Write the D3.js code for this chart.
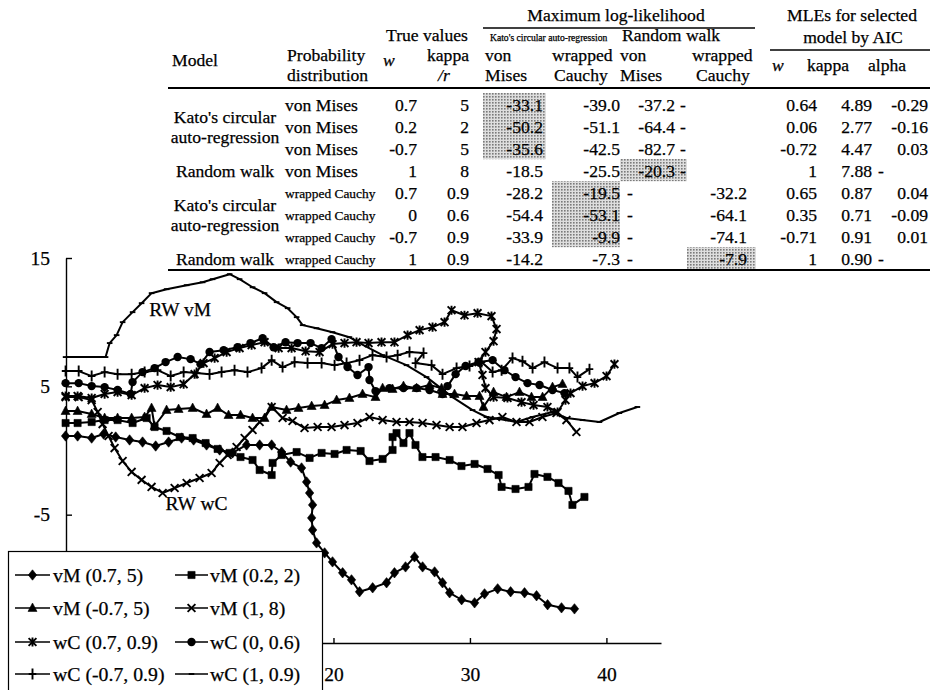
<!DOCTYPE html>
<html>
<head>
<meta charset="utf-8">
<script src="https://cdn.jsdelivr.net/npm/d3@7"></script>
<style>
  body { margin: 0; background: #fff; }
  svg { display: block; font-family: "Liberation Serif", "Times New Roman", serif; }
</style>
</head>
<body>
<div id="figure"></div>
<script>
// ---------- table values ----------
const modelNames = [["Kato's circular", "auto-regression"], ["Random walk"], ["Kato's circular", "auto-regression"], ["Random walk"]];
const modelRows = [[0, 2], [3, 3], [4, 6], [7, 7]];
const distributions = ["von Mises", "von Mises", "von Mises", "von Mises",
  "wrapped Cauchy", "wrapped Cauchy", "wrapped Cauchy", "wrapped Cauchy"];
const trueW = ["0.7", "0.2", "-0.7", "1", "0.7", "0", "-0.7", "1"];
const trueKappa = ["5", "2", "5", "8", "0.9", "0.6", "0.9", "0.9"];
const llKatoVM = ["-33.1", "-50.2", "-35.6", "-18.5", "-28.2", "-54.4", "-33.9", "-14.2"];
const llKatoWC = ["-39.0", "-51.1", "-42.5", "-25.5", "-19.5", "-53.1", "-9.9", "-7.3"];
const llRwVM = ["-37.2", "-64.4", "-82.7", "-20.3", null, null, null, null];
const llRwWC = [null, null, null, null, "-32.2", "-64.1", "-74.1", "-7.9"];
const mleW = ["0.64", "0.06", "-0.72", "1", "0.65", "0.35", "-0.71", "1"];
const mleKappa = ["4.89", "2.77", "4.47", "7.88", "0.87", "0.71", "0.91", "0.90"];
const mleAlpha = ["-0.29", "-0.16", "0.03", null, "0.04", "-0.09", "0.01", null];
const selectedModel = [0, 0, 0, 2, 1, 1, 1, 3]; // log-likelihood column chosen by AIC

// ---------- chart values (trajectory x, y) ----------
const seriesNames = ["vM (0.7, 5)", "vM (0.2, 2)", "vM (-0.7, 5)", "vM (1, 8)",
  "wC (0.7, 0.9)", "wC (0, 0.6)", "wC (-0.7, 0.9)", "wC (1, 0.9)"];
const markerTypes = ["diamond", "square", "triangle", "times", "asterisk", "circle", "plus", "dash"];

const pathVM07 = [[0.37,1.13],[1.25,1.13],[2.28,0.97],[3.16,1.28],[4.04,1.05],[5.06,0.82],[6.01,0.66],[6.97,0.35],
  [7.92,0.66],[8.87,0.97],[9.75,0.82],[10.7,0.43],[11.66,0.04],[12.6,-0.19],[13.63,0.43],[14.59,0.43],[15.47,0.43],
  [16.2,-0.12],[16.86,-0.9],[17.66,-1.36],[18.03,-2.45],[18.25,-3.31],[18.47,-4.24],[18.4,-5.25],[18.47,-6.19],
  [18.76,-7.2],[19.35,-7.98],[19.93,-8.68],[20.67,-9.53],[21.32,-10.08],[21.91,-11.01],[22.87,-10.7],[23.89,-10.31],
  [24.47,-9.53],[25.28,-9.07],[25.94,-8.29],[26.53,-9.07],[27.41,-9.46],[27.99,-10.31],[28.51,-11.09],[29.39,-11.63],
  [30.34,-11.87],[31.07,-11.17],[32.03,-10.78],[32.98,-11.01],[34.0,-11.09],[34.88,-11.32],[35.69,-12.02],
  [36.71,-12.26],[37.66,-12.34]];
const pathVM02 = [[0.37,2.14],[1.25,2.14],[2.28,2.22],[3.23,2.37],[4.18,2.37],[5.28,2.14],[6.31,2.53],[6.89,1.83],
  [7.77,1.52],[8.73,1.05],[9.68,0.97],[10.63,0.58],[11.51,0.12],[12.39,-0.19],[13.19,-0.51],[14.07,-0.74],
  [14.59,-1.52],[15.47,-1.91],[15.54,-0.97],[16.2,-0.35],[17.3,-0.12],[18.25,-0.58],[19.13,-0.19],[20.08,-0.27],
  [20.96,0.04],[21.99,-0.04],[22.64,-0.82],[23.6,-0.66],[24.33,0.04],[24.33,1.05],[24.62,1.36],[25.13,0.58],
  [25.57,1.36],[26.01,0.43],[26.52,-0.51],[27.48,-0.51],[28.51,-0.74],[29.38,-1.21],[30.34,-1.05],[31.29,-1.44],
  [32.1,-1.91],[32.32,-2.84],[33.34,-3.0],[34.29,-2.84],[34.73,-1.83],[35.68,-2.06],[36.49,-2.53],[37.22,-3.15],
  [37.51,-4.24],[38.39,-3.62]];
const pathVMm07 = [[0.37,3.07],[1.25,3.07],[2.28,2.84],[3.23,2.53],[4.18,2.53],[5.21,2.53],[6.16,2.61],[6.67,3.31],
  [6.89,1.91],[7.77,3.15],[8.65,3.23],[9.68,3.31],[10.7,2.84],[11.51,3.31],[12.31,2.76],[13.19,2.76],[14.07,2.53],
  [14.95,2.53],[15.47,3.39],[16.56,3.15],[17.44,3.31],[18.4,3.46],[19.35,3.54],[20.23,3.93],[21.17,4.09],[22.13,4.4],
  [23.08,4.16],[23.6,4.86],[24.33,4.79],[25.13,5.02],[26.09,4.86],[27.04,5.1],[27.92,4.86],[27.99,4.4],[28.87,4.4],
  [29.75,4.24],[30.7,4.24],[30.99,3.39],[31.73,4.55],[32.68,4.16],[33.63,4.55],[34.51,4.16],[35.32,4.16],
  [36.05,4.94],[36.78,5.18]];
const pathVM1 = [[0.37,4.16],[1.33,4.16],[2.28,3.93],[2.72,3.0],[3.08,2.06],[3.52,1.13],[3.96,0.19],[4.55,-0.82],
  [5.21,-1.67],[5.94,-2.29],[6.67,-2.84],[7.48,-3.31],[8.36,-2.92],[9.24,-2.53],[10.19,-2.14],[11.07,-1.75],
  [11.66,-0.97],[12.24,-0.35],[12.9,0.27],[13.49,0.97],[14.07,1.6],[14.59,2.22],[15.47,3.39],[16.27,2.53],[17.0,2.3],
  [17.88,1.75],[18.84,1.83],[19.86,1.83],[20.81,1.98],[21.76,2.14],[22.64,2.61],[23.6,2.37],[24.62,2.22],[25.57,2.22],
  [26.53,2.14],[27.55,1.98],[28.51,1.83],[29.45,1.83],[30.48,2.14],[31.43,2.37],[32.38,2.61],[33.41,2.22],
  [34.36,2.22],[35.31,2.61],[36.34,2.92],[37.07,2.37],[37.8,1.44]];
const pathWC07 = [[0.37,4.24],[1.25,4.24],[2.28,4.09],[3.23,4.4],[4.18,4.55],[5.21,4.32],[6.16,4.86],[7.11,5.1],
  [8.07,4.94],[9.02,5.17],[9.82,5.95],[10.48,6.81],[11.29,7.2],[12.17,7.67],[13.12,7.98],[14.0,8.21],[14.95,8.44],
  [15.98,7.98],[16.93,7.98],[17.96,7.74],[18.98,7.67],[19.93,8.29],[20.81,8.37],[21.69,8.44],[22.57,8.37],
  [23.52,8.44],[24.47,8.44],[25.43,8.99],[26.31,9.38],[27.26,9.61],[28.14,10.0],[28.65,10.93],[29.6,10.54],
  [30.56,10.7],[31.58,10.47],[31.95,9.46],[31.73,8.52],[31.14,7.67],[30.63,6.89],[30.92,5.88],[31.14,4.86],
  [31.73,4.16],[32.75,4.09],[33.78,3.77],[34.66,3.54],[35.68,3.39],[36.42,3.0],[37.0,3.93],[37.37,4.47],
  [38.25,5.02],[39.13,5.25],[40.01,5.8],[40.59,6.73]];
const pathWC0 = [[0.37,5.25],[1.33,5.25],[2.28,5.02],[3.23,4.94],[4.18,4.71],[5.14,4.4],[5.28,5.33],[6.01,6.11],
  [6.89,6.42],[7.7,6.89],[8.58,7.28],[9.53,7.12],[10.26,6.73],[10.92,7.67],[11.95,7.82],[12.97,8.05],[13.92,8.37],
  [14.81,8.75],[15.61,8.05],[16.49,8.44],[17.37,8.37],[18.32,8.37],[19.13,7.98],[19.86,8.68],[20.37,7.28],
  [21.03,6.5],[21.76,5.88],[22.57,6.5],[22.64,5.49],[23.08,4.63],[24.1,4.86],[25.13,4.86],[26.09,4.86],[27.04,4.71],
  [27.99,4.4],[28.36,5.02],[28.95,5.95],[29.68,6.58],[30.63,6.89],[31.66,7.04],[32.53,6.26],[33.34,5.72],
  [34.22,5.25],[35.1,5.1],[36.05,4.71],[36.93,4.47]];
const pathWCm07 = [[0.37,6.19],[1.33,6.19],[2.28,5.8],[3.23,6.11],[4.18,5.95],[5.21,5.95],[6.16,6.11],[7.11,6.26],
  [8.07,5.8],[9.02,6.11],[9.97,6.03],[10.92,5.95],[11.8,6.11],[12.75,6.26],[13.7,6.11],[14.73,6.42],[15.47,7.04],
  [16.27,6.5],[17.15,6.89],[18.1,6.81],[19.13,6.81],[20.08,6.65],[20.96,6.81],[21.91,7.04],[22.86,7.43],
  [23.89,7.28],[24.7,7.43],[25.57,7.67],[26.6,7.59],[26.01,6.81],[27.19,6.65],[27.99,5.95],[29.02,6.42],
  [29.97,6.58],[30.85,6.89],[31.66,6.11],[32.32,6.26],[33.12,7.2],[33.85,6.96],[34.59,6.42],[35.46,6.89],
  [36.42,6.42],[37.29,6.42],[37.88,5.72],[38.76,6.34]];
const pathWC1 = [[0.37,7.28],[1.33,7.28],[2.35,7.28],[3.3,7.28],[3.6,8.37],[4.11,8.99],[4.55,10.0],[5.28,10.78],
  [5.94,11.48],[6.67,12.26],[7.77,12.57],[9.24,12.88],[10.41,13.11],[11.14,13.35],[12.39,13.74],[13.12,13.35],
  [14.07,12.72],[14.95,12.26],[15.83,11.56],[16.64,11.09],[17.3,10.39],[17.74,9.77],[18.76,9.53],[19.93,9.22],
  [21.17,8.83],[21.91,8.37],[23.6,7.43],[25.35,6.65],[26.82,5.72],[27.77,4.94],[28.72,4.16],[30.19,3.15],
  [31.21,2.61],[32.17,2.45],[33.41,2.22],[34.58,2.61],[36.05,3.0],[37.07,2.53],[38.25,2.37],[39.49,2.22],
  [40.95,2.92],[42.27,3.39]];
const seriesPaths = [pathVM07, pathVM02, pathVMm07, pathVM1, pathWC07, pathWC0, pathWCm07, pathWC1];

const yTicks = [15, 5, -5, -15];
const xTicks = [10, 20, 30, 40];
const annotations = [["RW vM", 6.5, 10.5], ["RW wC", 7.7, -4.63]];

// ---------- containers ----------
const width = 930, height = 690;
const ink = "#000";
const svg = d3.select("#figure").append("svg")
  .attr("width", width).attr("height", height)
  .attr("viewBox", `0 0 ${width} ${height}`);

const defs = svg.append("defs");
const pat = defs.append("pattern").attr("id", "dots")
  .attr("width", 3).attr("height", 3).attr("patternUnits", "userSpaceOnUse");
pat.append("rect").attr("width", 3).attr("height", 3).attr("fill", "#dedede");
pat.append("rect").attr("width", 1.6).attr("height", 1.6).attr("fill", "#7a7a7a");

// ---------- table ----------
const table = svg.append("g");
const rowBase = [111, 133, 155, 177, 199, 221, 243, 265];
const colRight = {w: 417, kappa: 469, kv: 543, kw: 620, rv: 675, rw: 747, mw: 817, mk: 872, ma: 928};
const dashLeft = {rv: 627, rw: 680, ma: 878};
const shadeX = [[483, 546], [552, 620], [620, 687], [687, 756]];

const txt = (s, x, y, opts = {}) => table.append("text")
  .text(s).attr("x", x).attr("y", y)
  .attr("text-anchor", opts.anchor || "start")
  .attr("font-size", opts.size || 17.6)
  .attr("font-style", opts.italic ? "italic" : null)
  .attr("fill", ink).attr("stroke", ink).attr("stroke-width", 0.25);

// shading of selected models
selectedModel.forEach((c, i) => {
  table.append("rect")
    .attr("x", shadeX[c][0]).attr("width", shadeX[c][1] - shadeX[c][0])
    .attr("y", rowBase[i] - 18).attr("height", 22.2)
    .attr("fill", "url(#dots)");
});

// header rules
const rule = (x1, x2, yy, w) => table.append("line")
  .attr("x1", x1).attr("x2", x2).attr("y1", yy).attr("y2", yy)
  .attr("stroke", ink).attr("stroke-width", w);
rule(483, 755, 28, 1.5);
rule(770, 930, 50, 1.5);
rule(168, 930, 88, 2.2);
rule(168, 930, 270, 2.2);

// header text
txt("Maximum log-likelihood", 616, 21, {anchor: "middle"});
txt("MLEs for selected", 852, 21, {anchor: "middle"});
txt("model by AIC", 853, 43, {anchor: "middle"});
txt("True values", 427, 41, {anchor: "middle"});
txt("Kato's circular auto-regression", 490, 41, {size: 9.6});
txt("Random walk", 671, 41, {anchor: "middle"});
txt("Model", 172, 66);
txt("Probability", 287, 61);
txt("distribution", 287, 81);
txt("w", 383, 66, {italic: true});
txt("kappa", 469, 61, {anchor: "end"});
txt("/r", 438, 81, {italic: true});
txt("von", 485, 61); txt("Mises", 485, 81);
txt("wrapped", 552, 61); txt("Cauchy", 554, 81);
txt("von", 620, 61); txt("Mises", 620, 81);
txt("wrapped", 692, 61); txt("Cauchy", 696, 81);
txt("w", 772, 71, {italic: true});
txt("kappa", 807, 71);
txt("alpha", 868, 71);

// model names
modelNames.forEach((lines, g) => {
  const mid = rowBase[Math.round((modelRows[g][0] + modelRows[g][1]) / 2)];
  if (lines.length === 1) txt(lines[0], 225, mid, {anchor: "middle"});
  else {
    txt(lines[0], 225, mid - 10, {anchor: "middle"});
    txt(lines[1], 225, mid + 10, {anchor: "middle"});
  }
});

// body cells
const valueOrDash = (v, key, i) => {
  if (v === null) txt("-", dashLeft[key], rowBase[i]);
  else txt(v, colRight[key], rowBase[i], {anchor: "end"});
};
rowBase.forEach((b, i) => {
  const small = distributions[i] === "wrapped Cauchy";
  txt(distributions[i], 285, b - (small ? 1 : 0), {size: small ? 13.4 : 17.6});
  txt(trueW[i], colRight.w, b, {anchor: "end"});
  txt(trueKappa[i], colRight.kappa, b, {anchor: "end"});
  txt(llKatoVM[i], colRight.kv, b, {anchor: "end"});
  txt(llKatoWC[i], colRight.kw, b, {anchor: "end"});
  valueOrDash(llRwVM[i], "rv", i);
  valueOrDash(llRwWC[i], "rw", i);
  txt(mleW[i], colRight.mw, b, {anchor: "end"});
  txt(mleKappa[i], colRight.mk, b, {anchor: "end"});
  valueOrDash(mleAlpha[i], "ma", i);
});

// ---------- chart ----------
const xScale = d3.scaleLinear().domain([0.4, 44]).range([66, 661]);
const yScale = d3.scaleLinear().domain([-15, 15]).range([643, 258]);

const chart = svg.append("g");

// markers
const markerPath = {
  diamond: "M0,-5.2L4.2,0L0,5.2L-4.2,0Z",
  square: "M-3.6,-3.6H3.6V3.6H-3.6Z",
  triangle: "M0,-5L4.5,3.4L-4.5,3.4Z",
  times: "M-3.9,-3.9L3.9,3.9M-3.9,3.9L3.9,-3.9",
  asterisk: "M-3.9,-3.9L3.9,3.9M-3.9,3.9L3.9,-3.9M0,-4.6V4.6",
  plus: "M0,-5.5V5.5M-3.8,0H3.8",
  dash: "M-2.8,0H2.8"
};
const drawMarker = (sel, type) => {
  if (type === "circle") {
    sel.append("circle").attr("r", 4.2).attr("fill", ink);
  } else {
    const filled = ["diamond", "square", "triangle"].includes(type);
    sel.append("path").attr("d", markerPath[type])
      .attr("fill", filled ? ink : "none")
      .attr("stroke", ink)
      .attr("stroke-width", filled ? 0.6 : 1.9);
  }
};

const line = d3.line().x(d => xScale(d[0])).y(d => yScale(d[1]));

seriesPaths.forEach((pts, k) => {
  const g = chart.append("g");
  g.append("path").attr("d", line(pts))
    .attr("fill", "none").attr("stroke", ink)
    .attr("stroke-width", 2).attr("stroke-linejoin", "round");
  g.selectAll("g.m").data(pts).join("g")
    .attr("class", "m")
    .attr("transform", d => `translate(${xScale(d[0])},${yScale(d[1])})`)
    .each(function () { drawMarker(d3.select(this), markerTypes[k]); });
});

// annotations
chart.selectAll("text.note").data(annotations).join("text")
  .attr("class", "note")
  .attr("x", d => xScale(d[1])).attr("y", d => yScale(d[2]))
  .attr("font-size", 19.5).attr("fill", ink)
  .attr("stroke", ink).attr("stroke-width", 0.25)
  .text(d => d[0]);

// axes
const yAxis = chart.append("g")
  .attr("transform", `translate(${xScale(0.4)},0)`)
  .call(d3.axisLeft(yScale).tickValues(yTicks).tickSize(-6).tickSizeOuter(0)
    .tickPadding(16).tickFormat(d => String(d)));
const xAxis = chart.append("g")
  .attr("transform", `translate(0,${yScale(-15)})`)
  .call(d3.axisBottom(xScale).tickValues(xTicks).tickSize(-5).tickSizeOuter(0)
    .tickPadding(24).tickFormat(d => String(d)));
[yAxis, xAxis].forEach(a => {
  a.attr("font-family", null).attr("font-size", 19.5);
  a.selectAll("path, line").attr("stroke", ink).attr("stroke-width", 1.4);
  a.selectAll("text").attr("fill", ink).attr("stroke", ink).attr("stroke-width", 0.25);
});

// legend
const legend = svg.append("g");
legend.append("rect")
  .attr("x", 8.5).attr("y", 551.5).attr("width", 314).attr("height", 160)
  .attr("fill", "#fff").attr("stroke", ink).attr("stroke-width", 1.2);
const legendRowY = [575, 608, 642, 674];
const legendColX = [[15, 50, 53], [175, 208, 210]];
seriesNames.forEach((name, k) => {
  const r = Math.floor(k / 2), c = k % 2;
  const [x1, x2, tx] = legendColX[c];
  const yy = legendRowY[r];
  legend.append("line").attr("x1", x1).attr("x2", x2).attr("y1", yy).attr("y2", yy)
    .attr("stroke", ink).attr("stroke-width", 1.6);
  const m = legend.append("g").attr("transform", `translate(${(x1 + x2) / 2},${yy})`);
  drawMarker(m, markerTypes[k]);
  legend.append("text").attr("x", tx).attr("y", yy).attr("dy", "0.35em")
    .attr("font-size", 19.8).attr("fill", ink)
    .attr("stroke", ink).attr("stroke-width", 0.25).text(name);
});
</script>
</body>
</html>
